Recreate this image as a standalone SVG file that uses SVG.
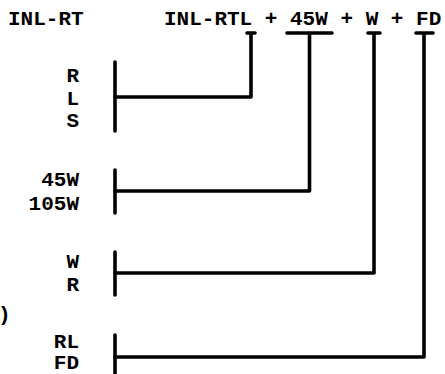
<svg xmlns="http://www.w3.org/2000/svg" width="445" height="374" viewBox="0 0 445 374">
<style>
text{font-family:"Liberation Mono","Courier New",monospace;font-weight:bold;font-size:21px;fill:#000}
.r{text-anchor:end}
.ln{fill:none;stroke:#000;stroke-width:3.6;stroke-linecap:round;stroke-linejoin:round}
</style>
<rect width="445" height="374" fill="#fff"/>
<g id="title-left"><text x="8" y="25">INL-RT</text></g>
<g id="title-right"><text x="164" y="25">INL-RTL + 45W + W + FD</text></g>
<g id="group-rls">
<path class="ln" d="M115,62V131"/>
<text class="r" x="79" y="82">R</text>
<text class="r" x="79" y="105">L</text>
<text class="r" x="79" y="127">S</text>
</g>
<g id="group-45w">
<path class="ln" d="M115,170V213"/>
<text class="r" x="79" y="186">45W</text>
<text class="r" x="79" y="210">105W</text>
</g>
<g id="group-wr">
<path class="ln" d="M115,252V295"/>
<text class="r" x="79" y="268">W</text>
<text class="r" x="79" y="291">R</text>
</g>
<g id="paren"><text x="-2" y="321">)</text></g>
<g id="group-rlfd">
<path class="ln" d="M115,335V380"/>
<text class="r" x="79" y="348">RL</text>
<text class="r" x="79" y="369">FD</text>
</g>
<g id="connectors">
<path class="ln" d="M247,33H255M251,33V97H115"/>
<path class="ln" d="M287,33H332M309.5,33V191H115"/>
<path class="ln" d="M368,33H380M374,33V273H115"/>
<path class="ln" d="M416,33H433M424,33V357H115"/>
</g>
</svg>
